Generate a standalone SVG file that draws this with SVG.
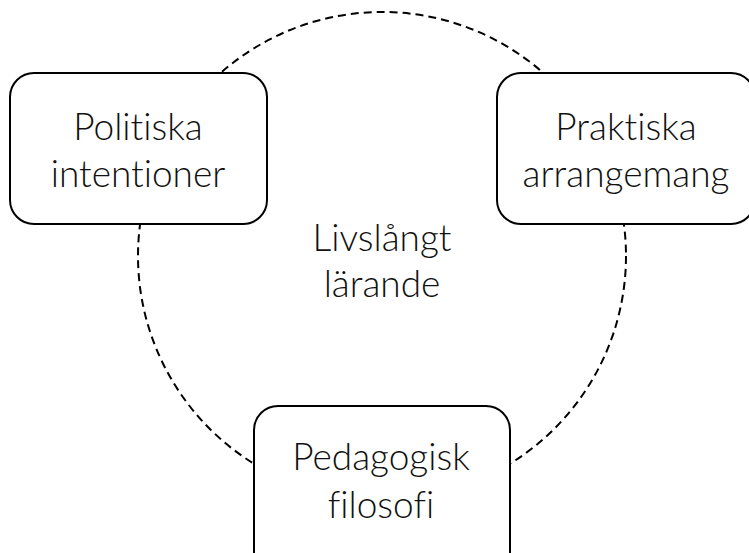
<svg xmlns="http://www.w3.org/2000/svg" width="749" height="553" viewBox="0 0 749 553">
<style>
.box{fill:#fff;stroke:#000;stroke-width:2}
.lbl{font-family:Lato,"Open Sans",sans-serif;font-weight:300;font-size:37px;fill:#111;text-anchor:middle;font-variant-ligatures:none;font-feature-settings:"liga" 0,"dlig" 0}
.ring{fill:none;stroke:#000;stroke-width:2;stroke-dasharray:8 5}
</style>
<rect width="749" height="553" fill="#fff"/>
<g id="connectors">
<circle class="ring" cx="382" cy="256" r="244"/>
</g>
<g id="center">
<text class="lbl" x="382" y="251">Livslångt</text>
<text class="lbl" x="382" y="297">lärande</text>
</g>
<g id="politiska">
<rect class="box" x="10" y="73" width="257" height="151" rx="24"/>
<text class="lbl" x="138" y="140">Politiska</text>
<text class="lbl" x="138" y="187">intentioner</text>
</g>
<g id="praktiska">
<rect class="box" x="497" y="73" width="258" height="151" rx="24"/>
<text class="lbl" x="626" y="140">Praktiska</text>
<text class="lbl" x="626" y="187">arrangemang</text>
</g>
<g id="pedagogisk">
<rect class="box" x="254" y="406" width="256" height="170" rx="24"/>
<text class="lbl" x="381" y="470">Pedagogisk</text>
<text class="lbl" x="381" y="518">filosofi</text>
</g>
</svg>
